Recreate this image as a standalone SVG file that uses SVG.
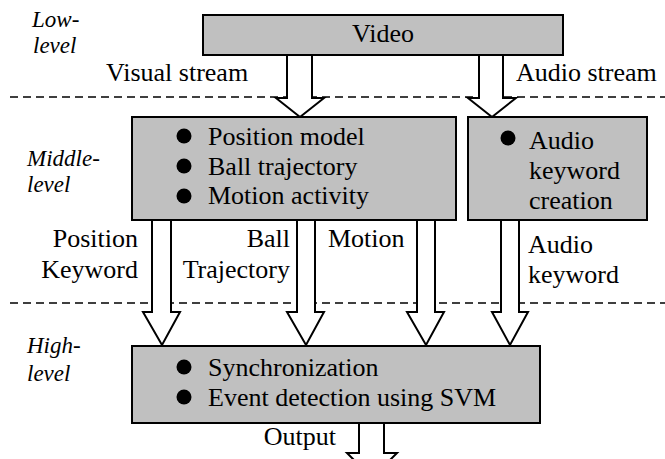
<svg xmlns="http://www.w3.org/2000/svg" width="665" height="459" viewBox="0 0 665 459" font-family="Liberation Serif, serif">
<style>
.box{fill:#c0c0c0;stroke:#000;stroke-width:2}
.arr{fill:#fff;stroke:#000;stroke-width:2;stroke-linejoin:miter}
.dash{stroke:#000;stroke-width:1.5;stroke-dasharray:8,5;fill:none}
.t{font-size:26px;fill:#000}
.it{font-size:23px;font-style:italic;fill:#000}
.b{fill:#000}
</style>
<rect width="665" height="459" fill="#fff"/>
<g id="levels">
<line class="dash" x1="10" y1="97" x2="665" y2="97"/>
<line class="dash" x1="10" y1="303" x2="665" y2="303"/>
<text class="it" x="32" y="27">Low-</text>
<text class="it" x="33" y="53">level</text>
<text class="it" x="27" y="166">Middle-</text>
<text class="it" x="27" y="192">level</text>
<text class="it" x="27" y="353">High-</text>
<text class="it" x="27" y="381">level</text>
</g>
<g id="connectors">
<polygon class="arr" points="287,55 287,98 276,98 300,117 324,98 312,98 312,55"/>
<polygon class="arr" points="479,55 479,98 468,98 492,117 516,98 503,98 503,55"/>
<polygon class="arr" points="152,220 152,312 143,312 162,345 180,312 171,312 171,220"/>
<polygon class="arr" points="297,220 297,312 287,312 306,345 324,312 315,312 315,220"/>
<polygon class="arr" points="417,220 417,312 407,312 426,345 444,312 435,312 435,220"/>
<polygon class="arr" points="501,220 501,312 492,312 510,345 528,312 519,312 519,220"/>
<polygon class="arr" points="359,423 359,453 347,453 372,478 397,453 384,453 384,423"/>
<text class="t" x="106" y="81">Visual stream</text>
<text class="t" x="516" y="81">Audio stream</text>
<text class="t" x="138" y="247" text-anchor="end">Position</text>
<text class="t" x="138" y="278" text-anchor="end">Keyword</text>
<text class="t" x="290" y="247" text-anchor="end">Ball</text>
<text class="t" x="290" y="278" text-anchor="end">Trajectory</text>
<text class="t" x="328" y="247">Motion</text>
<text class="t" x="528" y="253">Audio</text>
<text class="t" x="528" y="283">keyword</text>
<text class="t" x="336" y="445" text-anchor="end">Output</text>
</g>
<g id="video">
<rect class="box" x="203" y="15" width="360" height="40"/>
<text class="t" x="383" y="42" text-anchor="middle">Video</text>
</g>
<g id="middle">
<rect class="box" x="132" y="117" width="324" height="103"/>
<circle class="b" cx="184" cy="136" r="7.5"/>
<circle class="b" cx="184" cy="166" r="7.5"/>
<circle class="b" cx="184" cy="196" r="7.5"/>
<text class="t" x="208" y="145">Position model</text>
<text class="t" x="208" y="175">Ball trajectory</text>
<text class="t" x="208" y="204">Motion activity</text>
</g>
<g id="audio">
<rect class="box" x="468" y="117" width="179" height="103"/>
<circle class="b" cx="508" cy="138" r="7.5"/>
<text class="t" x="529" y="149">Audio</text>
<text class="t" x="529" y="179">keyword</text>
<text class="t" x="529" y="209">creation</text>
</g>
<g id="high">
<rect class="box" x="132" y="346" width="408" height="77"/>
<circle class="b" cx="184" cy="367" r="7.5"/>
<circle class="b" cx="184" cy="397" r="7.5"/>
<text class="t" x="208" y="376">Synchronization</text>
<text class="t" x="208" y="406">Event detection using SVM</text>
</g>
</svg>
